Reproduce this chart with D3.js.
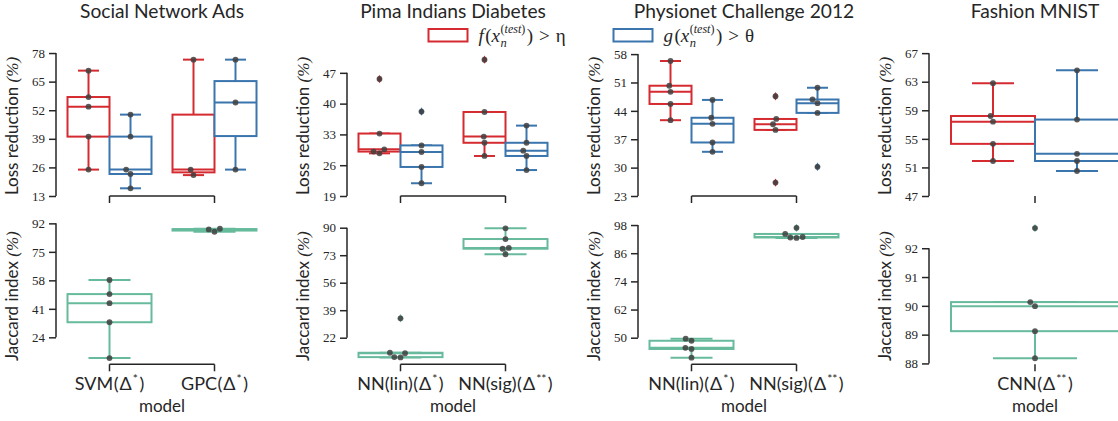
<!DOCTYPE html>
<html>
<head>
<meta charset="utf-8">
<script src="https://cdn.jsdelivr.net/npm/d3@7"></script>
<style>
  body { margin: 0; background: #fff; }
  svg { display: block; }
</style>
</head>
<body>
<div id="chart"></div>
<script>
// ---- data ----
const datasets = ['Social Network Ads', 'Pima Indians Diabetes', 'Physionet Challenge 2012', 'Fashion MNIST'];
const models = [['SVM', 'GPC'], ['NN(lin)', 'NN(sig)'], ['NN(lin)', 'NN(sig)'], ['CNN']];
const stars = [['*', '*'], ['*', '**'], ['*', '**'], ['**']];

// loss reduction (%), f(x) > eta
const lossF = [
  [[25, 40, 53.6, 58, 70], [22.5, 25, 75]],
  [[28.7, 29.1, 29.6, 33.2, 45.6], [28.1, 31.1, 32.5, 38.1, 50]],
  [[41.7, 45.7, 48.7, 50.2, 56.3], [26.3, 39.3, 40.7, 42, 47.6]],
  [[51.9, 54.3, 57.4, 58.2, 62.8]]
];
// loss reduction (%), g(x) > theta
const lossG = [
  [[16.5, 23, 25, 40, 50], [25, 55.5, 75]],
  [[21.9, 25.6, 29, 30.5, 38.2], [24.9, 28.1, 29.3, 31.1, 35]],
  [[33.9, 36.2, 40.8, 42.3, 46.7], [30.2, 43.5, 45.9, 46.8, 49.7]],
  [[50.5, 51.9, 52.9, 57.7, 64.6]]
];
// jaccard index (%)
const jaccard = [
  [[11.6, 33, 44.4, 49.8, 58.2], [87, 88.4, 88.8]],
  [[9.8, 10, 12.4, 12.7, 34], [73.6, 77, 77.5, 83, 89.6]],
  [[41.5, 45.2, 45.7, 48.7, 49.6], [92.5, 92.7, 92.9, 94.2, 96.8]],
  [[88.18, 89.12, 89.99, 90.13, 92.7]]
];

const lossTicks = [[13, 26, 39, 52, 65, 78], [19, 26, 33, 40, 47], [23, 30, 37, 44, 51, 58], [47, 51, 55, 59, 63, 67]];
const jacTicks = [[24, 41, 58, 75, 92], [22, 39, 56, 73, 90], [50, 62, 74, 86, 98], [88, 89, 90, 91, 92]];
const lossLim = [[13, 81.2], [19, 53.1], [23, 60], [47, 68]];
const jacLim = [[7.9, 95.2], [5.56, 96], [38.67, 101], [87.97, 93.05]];

// ---- style ----
const ink = '#262626';
const red = '#d52b30', blue = '#3a75ae', teal = '#67bb9c';
const sans = 'Lato, "DejaVu Sans", sans-serif';
const serif = '"Liberation Serif", "DejaVu Serif", serif';

const svg = d3.select('#chart').append('svg')
  .attr('width', 1118).attr('height', 421)
  .style('font-family', sans);

const top0 = 46, top1 = 196, bot0 = 218, bot1 = 364.3;
const panelW = 210;
const panelX = i => 57 + i * 291;

function boxStats(vals) {
  const s = vals.slice().sort(d3.ascending);
  const q1 = d3.quantile(s, 0.25), med = d3.quantile(s, 0.5), q3 = d3.quantile(s, 0.75);
  const iqr = q3 - q1;
  const ok = v => v >= q1 - 1.5 * iqr && v <= q3 + 1.5 * iqr;
  const inside = s.filter(ok);
  return { q1, med, q3, lo: d3.min(inside), hi: d3.max(inside), out: s.filter(v => !ok(v)) };
}

function drawBox(g, vals, cx, w, y, color) {
  const st = boxStats(vals);
  const b = g.append('g').attr('fill', 'none').attr('stroke', color).attr('stroke-width', 2);
  b.append('line').attr('x1', cx).attr('x2', cx).attr('y1', y(st.q3)).attr('y2', y(st.hi));
  b.append('line').attr('x1', cx).attr('x2', cx).attr('y1', y(st.q1)).attr('y2', y(st.lo));
  [st.lo, st.hi].forEach(v => b.append('line')
    .attr('x1', cx - w / 4).attr('x2', cx + w / 4).attr('y1', y(v)).attr('y2', y(v)));
  b.append('rect').attr('x', cx - w / 2).attr('y', y(st.q3))
    .attr('width', w).attr('height', Math.max(0.5, y(st.q1) - y(st.q3))).attr('fill', '#fff');
  b.append('line').attr('x1', cx - w / 2).attr('x2', cx + w / 2).attr('y1', y(st.med)).attr('y2', y(st.med));
  g.selectAll(null).data(st.out).join('path')
    .attr('d', 'M0,-4.2L2.6,0L0,4.2L-2.6,0Z')
    .attr('transform', d => `translate(${cx},${y(d)})`)
    .attr('fill', color);
}

// simple beeswarm in pixel space
function swarm(vals, cx, y, d) {
  const pts = vals.map(v => ({ v, py: y(v) })).sort((a, b) => b.py - a.py);
  const placed = [];
  pts.forEach(p => {
    const cands = [0];
    placed.forEach(q => {
      const dy = p.py - q.py;
      if (Math.abs(dy) < d) {
        const dx = Math.sqrt(d * d - dy * dy);
        cands.push(q.dx + dx, q.dx - dx);
      }
    });
    cands.sort((a, b) => Math.abs(a) - Math.abs(b) || a - b);
    p.dx = cands.find(c => placed.every(q => (c - q.dx) ** 2 + (p.py - q.py) ** 2 >= d * d - 0.01));
    placed.push(p);
  });
  return pts.map(p => ({ x: cx + p.dx, y: p.py }));
}

function drawDots(g, vals, cx, y) {
  g.selectAll(null).data(swarm(vals, cx, y, 6.2)).join('circle')
    .attr('cx', d => d.x).attr('cy', d => d.y).attr('r', 2.9)
    .attr('fill', '#404040').attr('fill-opacity', 0.85);
}

function yAxis(g, y, ticks, left) {
  const ax = g.append('g').attr('transform', `translate(${left - 1},0)`)
    .call(d3.axisLeft(y).tickValues(ticks).tickSize(7).tickPadding(4).tickFormat(d3.format('d')));
  ax.select('.domain').remove();
  ax.append('line').attr('y1', y(ticks[0])).attr('y2', y(ticks[ticks.length - 1]))
    .attr('stroke', ink).attr('stroke-width', 1.5);
  ax.selectAll('.tick line').attr('stroke', ink).attr('stroke-width', 1.5);
  ax.selectAll('.tick text').attr('font-family', serif).attr('font-size', 13).attr('fill', ink);
}

function xAxis(g, x, yPos) {
  const ax = g.append('g').attr('transform', `translate(0,${yPos})`)
    .call(d3.axisBottom(x).tickSize(7).tickFormat(''));
  ax.select('.domain').remove();
  const c = x.domain().map(m => x(m) + x.bandwidth() / 2);
  ax.append('line').attr('x1', c[0]).attr('x2', c[c.length - 1])
    .attr('stroke', ink).attr('stroke-width', 1.5);
  ax.selectAll('.tick line').attr('stroke', ink).attr('stroke-width', 1.5);
}

function yLabel(g, x, cy, txt) {
  const t = g.append('text').attr('transform', `translate(${x},${cy}) rotate(-90)`)
    .attr('text-anchor', 'middle').attr('font-size', 17).attr('fill', ink);
  t.append('tspan').text(txt + ' ');
  t.append('tspan').attr('font-family', serif).attr('font-style', 'italic').text('(%)');
}

datasets.forEach((name, i) => {
  const left = panelX(i);
  const g = svg.append('g');
  const x = d3.scaleBand().domain(models[i]).range([left, left + panelW]);
  const bw = x.bandwidth();
  const hue = d3.scaleBand().domain(['f', 'g']).range([-0.4 * bw, 0.4 * bw]);
  const yTop = d3.scaleLinear().domain(lossLim[i]).range([top1, top0]);
  const yBot = d3.scaleLinear().domain(jacLim[i]).range([bot1, bot0]);

  g.append('text').attr('x', left + panelW / 2).attr('y', 17.5)
    .attr('text-anchor', 'middle').attr('font-size', 19.2).attr('fill', ink).text(name);

  yAxis(g, yTop, lossTicks[i], left);
  yAxis(g, yBot, jacTicks[i], left);
  xAxis(g, x, top1);
  xAxis(g, x, bot1);
  yLabel(g, left - 39, (top0 + top1) / 2 + 5, 'Loss reduction');
  yLabel(g, left - 39, (bot0 + bot1) / 2 + 5, 'Jaccard index');

  models[i].forEach((m, j) => {
    const c = x(m) + bw / 2;
    const cf = c + hue('f') + hue.bandwidth() / 2;
    const cg = c + hue('g') + hue.bandwidth() / 2;
    drawBox(g, lossF[i][j], cf, hue.bandwidth(), yTop, red);
    drawBox(g, lossG[i][j], cg, hue.bandwidth(), yTop, blue);
    drawDots(g, lossF[i][j], cf, yTop);
    drawDots(g, lossG[i][j], cg, yTop);
    drawBox(g, jaccard[i][j], c, 0.8 * bw, yBot, teal);
    drawDots(g, jaccard[i][j], c, yBot);

    const t = g.append('text').attr('x', c).attr('y', 390)
      .attr('text-anchor', 'middle').attr('font-size', 18).attr('fill', ink);
    t.append('tspan').text(m);
    t.append('tspan').attr('dx', 0.5).text('(');
    t.append('tspan').attr('dx', 1).text('\u0394');
    t.append('tspan').attr('font-size', 12).attr('dx', 1).attr('dy', -7).text(stars[i][j]);
    t.append('tspan').attr('dx', 1.5).attr('dy', 7).text(')');
  });

  g.append('text').attr('x', left + panelW / 2).attr('y', 412)
    .attr('text-anchor', 'middle').attr('font-size', 17).attr('fill', ink).text('model');
});

// ---- legend: f(x_n^(test)) > eta as one text element ----
function mathLabel(g, x0, y0, fn) {
  const t = g.append('text').attr('x', x0).attr('y', y0)
    .attr('font-family', serif).attr('font-size', 19).attr('fill', ink);
  t.append('tspan').attr('font-style', 'italic').text(fn);
  t.append('tspan').attr('dx', 1.5).text('(');
  t.append('tspan').attr('font-style', 'italic').text('x');
  const base = x0 + t.node().getComputedTextLength() + 2;
  const sub = t.append('tspan').attr('font-style', 'italic').attr('font-size', 12.5)
    .attr('x', base).attr('dy', 5).text('n');
  const s1 = t.append('tspan').attr('font-size', 12).attr('x', base).attr('dy', -14).text('(');
  const s2 = t.append('tspan').attr('font-size', 12).attr('font-style', 'italic').text('test');
  const s3 = t.append('tspan').attr('font-size', 12).text(')');
  const supW = [s1, s2, s3].reduce((a, s) => a + s.node().getComputedTextLength(), 0);
  const after = base + Math.max(sub.node().getComputedTextLength(), supW) + 1.5;
  t.append('tspan').attr('x', after).attr('dy', 9).text(')');
  t.append('tspan').attr('dx', 6).text('>');
  t.append('tspan').attr('dx', 6).text(fn === 'f' ? '\u03b7' : '\u03b8');
}

const legend = svg.append('g');
[[red, 428.5, 'f'], [blue, 613.5, 'g']].forEach(([col, lx, fn]) => {
  legend.append('rect').attr('x', lx).attr('y', 29).attr('width', 39).attr('height', 12.5)
    .attr('fill', 'none').attr('stroke', col).attr('stroke-width', 2);
  mathLabel(legend, lx + 50, 41.5, fn);
});
</script>
</body>
</html>
